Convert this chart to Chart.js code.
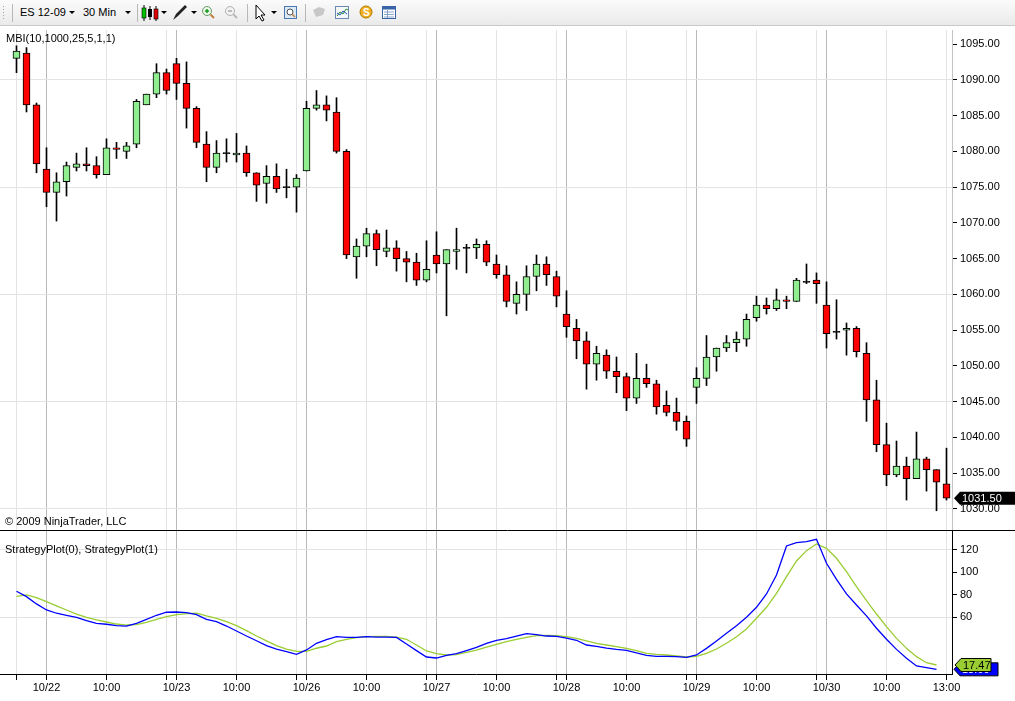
<!DOCTYPE html>
<html>
<head>
<meta charset="utf-8">
<script src="https://cdn.jsdelivr.net/npm/chart.js@4.4.0/dist/chart.umd.min.js"></script>
<style>
  body { margin: 0; background: #fff; font-family: "Liberation Sans", Arial, sans-serif; overflow: hidden; }
  #tb { position: absolute; left: 0; top: 0; width: 1015px; height: 25px;
        background: linear-gradient(#fbfbfb, #eaeaea); border-bottom: 1px solid #c9c9c9; }
  #tb .t { position: absolute; top: 6px; font-size: 11px; color: #000; }
  #wrap { position: absolute; left: 0; top: 26px; width: 1015px; height: 675px; }
  .lbl { position: absolute; font-size: 11px; color: #000; white-space: nowrap; }
</style>
</head>
<body>
<div id="tb">
  <svg width="400" height="25" style="position:absolute;left:0;top:0">
    <g fill="#a0a0a0"><rect x="3" y="6" width="1" height="1"/><rect x="3" y="9" width="1" height="1"/><rect x="3" y="12" width="1" height="1"/><rect x="3" y="15" width="1" height="1"/><rect x="3" y="18" width="1" height="1"/></g>
    <g stroke="#b8b8b8"><line x1="12.5" y1="4" x2="12.5" y2="22"/><line x1="137.5" y1="4" x2="137.5" y2="22"/><line x1="247.5" y1="4" x2="247.5" y2="22"/><line x1="305.5" y1="4" x2="305.5" y2="22"/></g>
    <g fill="#000"><path d="M69 11h6l-3 3z"/><path d="M125 11h6l-3 3z"/><path d="M161 11h6l-3 3z"/><path d="M191 11h6l-3 3z"/><path d="M271 11h6l-3 3z"/></g>
    <line x1="144" y1="5" x2="144" y2="21" stroke="#000"/><rect x="142" y="8" width="4" height="10" fill="#00c000" stroke="#000" stroke-width="0.6"/>
    <line x1="150" y1="6" x2="150" y2="20" stroke="#000"/><rect x="148" y="9" width="4" height="8" fill="#000"/>
    <line x1="156" y1="6" x2="156" y2="21" stroke="#000"/><rect x="154" y="9" width="4" height="10" fill="#e00000" stroke="#000" stroke-width="0.6"/>
    <path d="M173 20l3-6 9-9 2 2-9 9z" fill="#222"/>
    <circle cx="207" cy="11" r="4.5" fill="#eaf6ea" stroke="#6a9a6a"/><path d="M205 11h4M207 9v4" stroke="#1a9a1a" stroke-width="1.5"/><line x1="210.5" y1="14.5" x2="214" y2="18" stroke="#c08040" stroke-width="2"/>
    <circle cx="230" cy="11" r="4.5" fill="#f2f2f2" stroke="#b0b0b0"/><path d="M228 11h4" stroke="#a8a8a8" stroke-width="1.5"/><line x1="233.5" y1="14.5" x2="237" y2="18" stroke="#b8b8b8" stroke-width="2"/>
    <path d="M256 5v14l3-3 3 5 2-1-3-5h4z" fill="#fff" stroke="#000"/>
    <rect x="284.5" y="6.5" width="12" height="12" fill="#dbe8f6" stroke="#4a78b0"/><circle cx="290" cy="12" r="3" fill="#fff" stroke="#505050"/><line x1="292" y1="14" x2="295" y2="17" stroke="#c08040" stroke-width="1.5"/>
    <path d="M313 10l6-3 6 2-2 6-7 2z" fill="#c8c8c8"/>
    <rect x="335.5" y="6.5" width="13" height="12" fill="#f4f8fc" stroke="#6a88b0"/><path d="M337 16l3-4 3 2 3-5 2 1" stroke="#2a9a2a" fill="none"/><path d="M337 13l3 2 3-4 4 3" stroke="#3050c0" fill="none"/>
    <circle cx="366" cy="12" r="6" fill="#f0b020" stroke="#b07800"/><text x="363" y="16" font-size="10" font-weight="bold" fill="#fff" font-family="Liberation Sans">S</text>
    <rect x="382.5" y="6.5" width="13" height="12" fill="#fff" stroke="#3a64a8"/><rect x="383" y="7" width="12" height="2.5" fill="#3a64a8"/><path d="M384 12h10M384 14.5h10M384 17h10M387.5 10v8" stroke="#7090c0" stroke-width="0.8"/>
  </svg>
  <span class="t" style="left:20px">ES 12-09</span>
  <span class="t" style="left:83px">30 Min</span>
</div>
<div id="wrap">
  <canvas id="chart" width="1015" height="675"></canvas>
  <div class="lbl" style="left:6px;top:6px">MBI(10,1000,25,5,1,1)</div>
  <div class="lbl" style="left:5px;top:489px">© 2009 NinjaTrader, LLC</div>
  <div class="lbl" style="left:5px;top:517px">StrategyPlot(0), StrategyPlot(1)</div>
</div>
<script>
// 30 min ES 12-09 bars, index 0..93
const openP = [
  1093.0, 1093.75, 1086.5, 1077.5, 1074.25, 1075.75, 1077.75, 1078.25, 1078.0, 1076.75,
  1080.5, 1080.0, 1081.0, 1086.5, 1088.0, 1091.0, 1092.25, 1089.5, 1086.0, 1081.0,
  1077.75, 1079.75, 1079.5, 1079.75, 1077.0, 1075.5, 1076.5, 1075.0, 1075.0, 1077.25,
  1086.0, 1086.5, 1085.5, 1080.0, 1065.25, 1066.75, 1068.5, 1066.0, 1066.5, 1065.0,
  1064.5, 1062.0, 1065.5, 1064.25, 1066.0, 1066.5, 1066.5, 1067.0, 1064.25, 1062.75,
  1058.75, 1060.0, 1062.5, 1064.25, 1062.5, 1057.25, 1055.25, 1053.5, 1050.25, 1051.5,
  1049.25, 1048.5, 1045.5, 1048.25, 1047.5, 1044.5, 1043.5, 1042.25, 1047.0, 1048.25,
  1051.25, 1052.5, 1053.25, 1053.75, 1056.75, 1058.5, 1058.0, 1059.25, 1059.0, 1061.75,
  1062.0, 1058.5, 1054.75, 1055.0, 1055.25, 1051.75, 1045.25, 1039.0, 1034.75, 1036.0,
  1034.25, 1037.0, 1035.5, 1033.5
];
const highP = [
  1094.75, 1094.5, 1086.75, 1080.5, 1077.0, 1078.5, 1079.75, 1080.5, 1079.25, 1081.75,
  1081.25, 1081.25, 1087.25, 1088.0, 1092.25, 1091.5, 1093.0, 1092.5, 1086.25, 1082.75,
  1081.5, 1081.75, 1082.5, 1080.75, 1077.0, 1078.0, 1078.25, 1077.5, 1076.75, 1087.0,
  1088.5, 1087.75, 1087.5, 1080.25, 1067.75, 1069.25, 1069.0, 1069.0, 1067.5, 1066.0,
  1065.75, 1067.5, 1068.75, 1066.25, 1069.25, 1067.0, 1067.75, 1067.5, 1065.5, 1064.0,
  1061.75, 1064.0, 1065.5, 1065.25, 1063.25, 1060.5, 1056.5, 1054.75, 1052.75, 1052.25,
  1051.25, 1049.0, 1051.75, 1050.25, 1048.0, 1046.5, 1045.5, 1043.0, 1049.75, 1054.25,
  1052.5, 1054.25, 1054.75, 1057.25, 1059.75, 1059.5, 1060.75, 1059.75, 1062.25, 1064.25,
  1063.0, 1061.75, 1059.25, 1056.0, 1055.5, 1053.25, 1048.0, 1042.0, 1039.5, 1037.25,
  1040.75, 1037.25, 1035.5, 1038.5
];
const lowP = [
  1091.0, 1085.5, 1077.0, 1072.25, 1070.25, 1073.75, 1077.25, 1077.25, 1076.25, 1076.75,
  1079.0, 1079.0, 1080.5, 1086.5, 1087.5, 1088.0, 1087.25, 1083.25, 1080.5, 1075.75,
  1077.0, 1078.5, 1078.5, 1076.5, 1073.0, 1072.75, 1074.25, 1073.5, 1071.5, 1077.25,
  1085.75, 1084.25, 1079.75, 1065.0, 1062.25, 1065.25, 1064.0, 1065.25, 1063.25, 1061.75,
  1061.25, 1061.75, 1063.0, 1057.0, 1063.5, 1063.0, 1065.0, 1064.0, 1062.25, 1058.25,
  1057.25, 1057.75, 1060.5, 1061.25, 1058.25, 1054.0, 1051.0, 1046.75, 1048.0, 1048.25,
  1046.25, 1043.75, 1044.75, 1047.0, 1043.25, 1043.0, 1041.0, 1038.75, 1044.75, 1047.25,
  1049.25, 1052.0, 1052.0, 1052.75, 1056.25, 1057.25, 1057.75, 1058.0, 1059.0, 1061.5,
  1058.75, 1052.5, 1053.75, 1051.5, 1051.25, 1042.25, 1038.0, 1033.25, 1034.5, 1031.25,
  1034.25, 1032.5, 1029.75, 1031.25
];
const closeP = [
  1094.0, 1086.5, 1078.25, 1074.25, 1075.75, 1078.0, 1078.25, 1078.0, 1076.75, 1080.5,
  1080.25, 1080.75, 1087.0, 1088.0, 1091.0, 1088.5, 1089.5, 1086.0, 1081.25, 1077.75,
  1079.75, 1079.75, 1079.75, 1077.0, 1075.25, 1076.5, 1074.75, 1075.0, 1076.25, 1086.0,
  1086.5, 1085.75, 1080.0, 1065.5, 1066.75, 1068.5, 1066.25, 1066.5, 1065.0, 1064.5,
  1062.0, 1063.5, 1064.25, 1066.25, 1066.25, 1066.5, 1067.0, 1064.5, 1062.75, 1059.0,
  1060.0, 1062.5, 1064.25, 1062.75, 1059.75, 1055.5, 1053.5, 1050.25, 1051.75, 1049.25,
  1048.5, 1045.5, 1048.25, 1047.5, 1044.25, 1043.5, 1042.25, 1039.75, 1048.25, 1051.25,
  1052.5, 1053.25, 1053.75, 1056.5, 1058.5, 1058.0, 1059.25, 1059.0, 1062.0, 1061.75,
  1061.5, 1054.5, 1054.75, 1055.25, 1052.0, 1045.25, 1039.0, 1034.75, 1036.0, 1034.25,
  1037.0, 1035.5, 1033.75, 1031.5
];

// StrategyPlot(0) blue, StrategyPlot(1) green (no value on last bar)
const plot0 = [
  83.2, 78.4, 71.9, 66.5, 63.6, 61.8, 60.0, 57.0, 54.6, 53.8,
  52.5, 52.2, 54.6, 58.2, 61.8, 64.5, 64.7, 64.1, 62.3, 58.2,
  56.1, 52.2, 47.8, 43.3, 39.1, 34.7, 31.7, 29.3, 27.0, 30.9,
  36.8, 40.0, 42.7, 42.1, 42.1, 42.7, 42.4, 42.4, 42.1, 36.2,
  30.3, 24.6, 23.7, 26.1, 27.6, 30.3, 33.2, 36.8, 39.5, 41.0,
  43.3, 45.4, 44.5, 43.3, 43.0, 41.5, 39.5, 35.3, 34.1, 32.6,
  31.4, 30.6, 28.2, 26.1, 25.2, 25.2, 24.9, 24.3, 26.4, 32.3,
  38.9, 45.7, 52.5, 60.0, 68.9, 80.8, 97.7, 123.6, 126.5, 127.4,
  129.5, 108.1, 93.8, 80.8, 71.0, 61.2, 50.2, 40.4, 31.4, 23.4,
  16.6, 15.1, 13.6, null
];
const plot1 = [
  78.7, 79.9, 77.5, 73.9, 70.1, 66.5, 62.9, 60.0, 57.6, 55.8,
  54.0, 53.1, 53.4, 55.5, 58.2, 60.5, 62.3, 63.2, 63.6, 61.2,
  59.1, 56.1, 52.5, 48.1, 43.3, 38.9, 34.7, 31.7, 29.7, 29.7,
  32.4, 34.4, 38.3, 40.4, 41.8, 42.7, 43.0, 43.0, 42.4, 40.4,
  35.3, 30.0, 27.6, 26.4, 26.7, 28.8, 30.8, 33.5, 35.9, 38.3,
  40.4, 42.1, 43.6, 43.9, 43.6, 42.7, 41.2, 38.9, 36.8, 35.3,
  33.8, 32.3, 30.3, 27.9, 26.9, 26.4, 25.5, 24.6, 25.2, 27.9,
  31.7, 36.8, 42.7, 49.6, 59.1, 68.9, 81.4, 96.2, 110.2, 119.4,
  125.3, 121.5, 112.6, 100.7, 87.3, 74.8, 62.9, 51.7, 41.2, 32.3,
  24.9, 19.5, 17.47, null
];

// time axis
const tickPos = [3, 9, 16, 22, 29, 35, 42, 48, 55, 61, 68, 74, 81, 87, 93];
const tickText = ['10/22', '10:00', '10/23', '10:00', '10/26', '10:00', '10/27', '10:00',
                  '10/28', '10:00', '10/29', '10:00', '10/30', '10:00', '13:00'];
const minorPos = [0, 15, 28, 41, 54, 67, 80];
const sessionPos = [3, 16, 29, 42, 55, 68, 81];

const priceTicks = [1030, 1035, 1040, 1045, 1050, 1055, 1060, 1065, 1070, 1075, 1080, 1085, 1090, 1095];
const priceGrid = [1030, 1045, 1060, 1075, 1090];
const indTicks = [60, 80, 100, 120];
const indGrid = [60, 120];

const GREEN = '#90ee90', RED = '#ff0000';
const FONT = { family: '"Liberation Sans", Arial, sans-serif', size: 11 };

const idx = closeP.map((_, i) => i);
const wickData = idx.map(i => ({ x: i, y: [lowP[i], highP[i]] }));
const bodyData = idx.map(i => {
    const o = openP[i], c = closeP[i];
    if (Math.abs(c - o) < 0.1) return { x: i, y: [o - 0.08, o + 0.08] };
    return { x: i, y: [o, c] };
});
const bodyColors = idx.map(i => closeP[i] > openP[i] ? GREEN : (closeP[i] < openP[i] ? RED : '#000'));

const xTicks = [...new Set([...tickPos, ...minorPos])].sort((a, b) => a - b);

// y axes: fixed width, and no label padding so the panes fill the canvas
function fitY(s) {
    s.width = 63;
    s.paddingTop = 0;
    s.paddingBottom = 0;
}

function tag(ctx, x, y, w, fill, stroke, text, textColor) {
    ctx.save();
    ctx.beginPath();
    ctx.moveTo(x, y);
    ctx.lineTo(x + 6, y - 6.5);
    ctx.lineTo(x + w, y - 6.5);
    ctx.lineTo(x + w, y + 6.5);
    ctx.lineTo(x + 6, y + 6.5);
    ctx.closePath();
    ctx.fillStyle = fill;
    ctx.fill();
    if (stroke) { ctx.strokeStyle = stroke; ctx.lineWidth = 1; ctx.stroke(); }
    ctx.fillStyle = textColor;
    ctx.font = '11px "Liberation Sans", Arial, sans-serif';
    ctx.textBaseline = 'middle';
    ctx.fillText(text, x + 8, y + 0.5);
    ctx.restore();
}

const overlay = {
    id: 'overlay',
    afterDraw(chart) {
        const ctx = chart.ctx;
        const yP = chart.scales.yP, yI = chart.scales.yI;
        // panel separator
        ctx.save();
        ctx.strokeStyle = '#000';
        ctx.lineWidth = 1;
        ctx.beginPath();
        const sy = Math.round(yP.bottom) - 0.5;
        ctx.moveTo(0, sy);
        ctx.lineTo(chart.width, sy);
        ctx.stroke();
        ctx.restore();

        const last = closeP.length - 1;
        tag(ctx, yP.left + 2, yP.getPixelForValue(closeP[last]), 70, '#000', null, closeP[last].toFixed(2), '#fff');
        tag(ctx, yI.left + 2, yI.getPixelForValue(plot0[last - 1]), 44, '#0000ff', '#000', plot0[last - 1].toFixed(2), '#fff');
        tag(ctx, yI.left + 3, yI.getPixelForValue(plot1[last - 1]), 36, '#9acd32', '#000', plot1[last - 1].toFixed(2), '#000');
    }
};

new Chart(document.getElementById('chart'), {
    type: 'bar',
    data: {
        datasets: [
            {
                label: 'body', data: bodyData, yAxisID: 'yP', xAxisID: 'x',
                backgroundColor: bodyColors, borderColor: '#000', borderWidth: 1,
                borderSkipped: false, barThickness: 7, grouped: false, order: 1
            },
            {
                label: 'wick', data: wickData, yAxisID: 'yP', xAxisID: 'x',
                backgroundColor: '#000', borderWidth: 0, barThickness: 1, grouped: false, order: 2
            },
            {
                type: 'line', label: 'StrategyPlot(0)', yAxisID: 'yI', xAxisID: 'x',
                data: idx.map(i => ({ x: i, y: plot0[i] })),
                borderColor: '#0000ff', borderWidth: 1.3, pointRadius: 0, tension: 0, order: 0
            },
            {
                type: 'line', label: 'StrategyPlot(1)', yAxisID: 'yI', xAxisID: 'x',
                data: idx.map(i => ({ x: i, y: plot1[i] })),
                borderColor: '#9acd32', borderWidth: 1.3, pointRadius: 0, tension: 0, order: 0
            }
        ]
    },
    options: {
        responsive: false,
        animation: false,
        layout: { padding: { top: 4, left: 0, right: 0, bottom: 0 } },
        plugins: { legend: { display: false }, tooltip: { enabled: false } },
        scales: {
            x: {
                type: 'linear', position: 'bottom', min: -1.65, max: 93.55,
                offset: false,
                afterBuildTicks: s => { s.ticks = xTicks.map(v => ({ value: v })); },
                afterFit: s => { s.height = 27; s.paddingLeft = 0; s.paddingRight = 0; },
                ticks: {
                    autoSkip: false, maxRotation: 0, color: '#000', font: FONT, padding: 1,
                    callback: v => { const k = tickPos.indexOf(v); return k >= 0 ? tickText[k] : ''; }
                },
                grid: {
                    offset: false,
                    color: c => sessionPos.includes(c.tick && c.tick.value) ? '#b9b9b9' : '#e3e3e3',
                    tickColor: '#000', tickLength: 6
                },
                border: { color: '#000' }
            },
            yP: {
                type: 'linear', position: 'right', stack: 'panes', stackWeight: 501, weight: 1,
                min: 1026.92, max: 1096.96,
                afterBuildTicks: s => { s.ticks = priceTicks.map(v => ({ value: v })); },
                afterFit: fitY,
                ticks: { color: '#000', font: FONT, padding: 3, callback: v => v.toFixed(2) },
                grid: {
                    color: c => priceGrid.includes(c.tick && c.tick.value) ? '#e3e3e3' : 'rgba(0,0,0,0)',
                    tickColor: '#000', tickLength: 5
                },
                border: { color: '#c4c4c4' }
            },
            yI: {
                type: 'linear', position: 'right', stack: 'panes', stackWeight: 143, weight: 2,
                min: 9.45, max: 136.9,
                afterBuildTicks: s => { s.ticks = indTicks.map(v => ({ value: v })); },
                afterFit: fitY,
                ticks: { color: '#000', font: FONT, padding: 3 },
                grid: {
                    color: c => indGrid.includes(c.tick && c.tick.value) ? '#e3e3e3' : 'rgba(0,0,0,0)',
                    tickColor: '#000', tickLength: 5
                },
                border: { color: '#000' }
            }
        }
    },
    plugins: [overlay]
});
</script>
</body>
</html>
